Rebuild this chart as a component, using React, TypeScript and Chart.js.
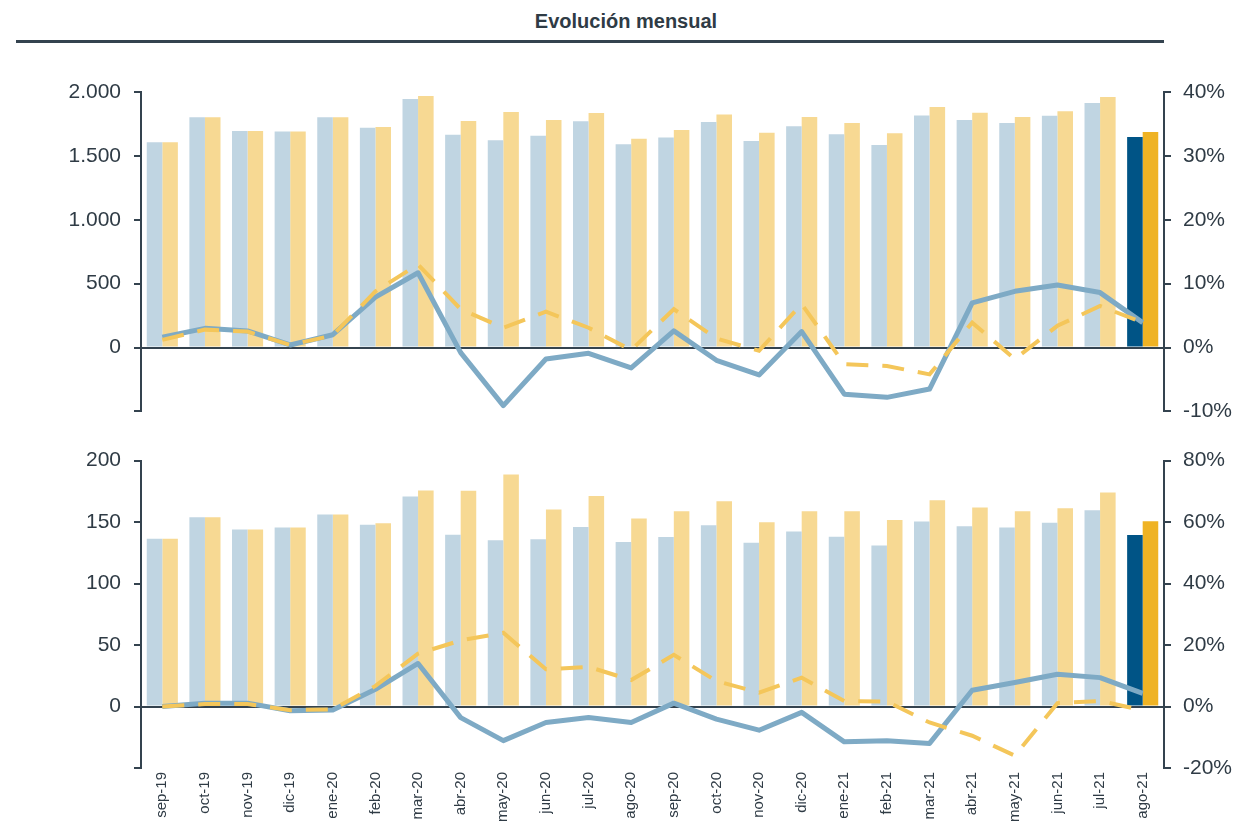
import React, { useEffect, useRef } from "react";
import { Chart, registerables } from "chart.js";

Chart.register(...registerables);

const categories = [
  "sep-19", "oct-19", "nov-19", "dic-19", "ene-20", "feb-20", "mar-20", "abr-20",
  "may-20", "jun-20", "jul-20", "ago-20", "sep-20", "oct-20", "nov-20", "dic-20",
  "ene-21", "feb-21", "mar-21", "abr-21", "may-21", "jun-21", "jul-21", "ago-21",
];

// Top panel (left axis: units, right axis: %)
const topBarsBlue = [1607, 1802, 1695, 1690, 1802, 1721, 1945, 1666, 1622, 1658, 1771, 1591, 1643, 1765, 1617, 1731, 1669, 1585, 1817, 1781, 1757, 1815, 1914, 1648];
const topBarsYellow = [1607, 1802, 1695, 1690, 1802, 1726, 1969, 1773, 1843, 1781, 1836, 1635, 1703, 1823, 1682, 1804, 1757, 1677, 1883, 1838, 1804, 1849, 1961, 1687];
const topLineBlue = [1.6, 3.0, 2.6, 0.4, 2.0, 7.9, 11.7, -0.8, -9.1, -1.8, -0.9, -3.2, 2.6, -2.0, -4.3, 2.5, -7.3, -7.8, -6.5, 7.0, 8.8, 9.8, 8.6, 3.9];
const topLineYellow = [1.2, 2.8, 2.5, 0.4, 1.9, 8.8, 13.0, 6.0, 3.1, 5.6, 3.1, -0.4, 6.0, 1.4, -0.5, 6.8, -2.6, -2.9, -4.2, 3.9, -1.8, 3.4, 6.5, 3.9];

// Bottom panel
const botBarsBlue = [136.4, 154.0, 144.0, 145.6, 156.2, 147.8, 170.8, 139.6, 135.3, 136.1, 146.1, 133.7, 137.8, 147.5, 133.2, 142.4, 138.0, 131.0, 150.5, 146.7, 145.6, 149.4, 159.7, 139.4];
const botBarsYellow = [136.4, 154.0, 144.0, 145.6, 156.2, 149.1, 175.6, 175.4, 188.6, 160.2, 171.3, 152.9, 158.9, 167.0, 149.9, 158.9, 158.9, 151.6, 167.8, 161.8, 158.9, 161.3, 174.0, 150.7];
const botLineBlue = [0.0, 1.1, 1.1, -1.4, -1.1, 5.6, 14.0, -3.6, -11.1, -5.2, -3.6, -5.2, 1.1, -4.1, -7.7, -1.9, -11.5, -11.1, -12.0, 5.3, 7.8, 10.5, 9.4, 4.3];
const botLineYellow = [0.0, 0.8, 0.8, -1.2, -0.9, 6.7, 17.2, 21.5, 24.0, 12.1, 12.9, 8.6, 16.8, 8.3, 4.5, 9.4, 1.8, 1.6, -5.2, -9.5, -16.0, 1.1, 1.8, -1.2];

const topLeftTicks = { min: -500, max: 2000, step: 500 };
const topRightTicks = { min: -10, max: 40, step: 10 };
const botLeftTicks = { min: -50, max: 200, step: 50 };
const botRightTicks = { min: -20, max: 80, step: 20 };

const DARK = "#34434f";
const TEXT = "#2f3b45";
const LIGHT_BLUE = "#c0d5e2";
const LIGHT_YELLOW = "#f7d993";
const DARK_BLUE = "#005486";
const GOLD = "#efb324";
const LINE_BLUE = "#7eaac5";
const LINE_YELLOW = "#f4c65a";
const FONT = "Arial, 'Liberation Sans', sans-serif";

function fmtThousands(v: number): string {
  const s = Math.abs(Math.round(v)).toString().replace(/\B(?=(\d{3})+(?!\d))/g, ".");
  return (v < 0 ? "-" : "") + s;
}

function colorsFor(n: number, base: string, last: string) {
  return Array.from({ length: n }, (_, i) => (i === n - 1 ? last : base));
}

function buildConfig(opts: {
  barsBlue: number[];
  barsYellow: number[];
  lineBlue: number[];
  lineYellow: number[];
  left: { min: number; max: number; step: number };
  right: { min: number; max: number; step: number };
  showX: boolean;
  padTop: number;
  padBottom: number;
  xHeight: number;
}): any {
  const n = categories.length;
  return {
    type: "bar",
    data: {
      labels: categories,
      datasets: [
        {
          type: "line",
          data: opts.lineYellow,
          yAxisID: "y2",
          borderColor: LINE_YELLOW,
          borderWidth: 4,
          borderDash: [22, 14],
          pointRadius: 0,
          tension: 0,
          order: 0,
          borderCapStyle: "butt",
        },
        {
          type: "line",
          data: opts.lineBlue,
          yAxisID: "y2",
          borderColor: LINE_BLUE,
          borderWidth: 5,
          pointRadius: 0,
          tension: 0,
          order: 1,
          borderJoinStyle: "round",
        },
        {
          type: "bar",
          data: opts.barsBlue,
          yAxisID: "y",
          backgroundColor: colorsFor(n, LIGHT_BLUE, DARK_BLUE),
          borderWidth: 0,
          categoryPercentage: 0.73,
          barPercentage: 1.0,
          order: 5,
        },
        {
          type: "bar",
          data: opts.barsYellow,
          yAxisID: "y",
          backgroundColor: colorsFor(n, LIGHT_YELLOW, GOLD),
          borderWidth: 0,
          categoryPercentage: 0.73,
          barPercentage: 1.0,
          order: 6,
        },
      ],
    },
    options: {
      animation: false,
      responsive: true,
      maintainAspectRatio: false,
      layout: { padding: { left: 0, right: 0, top: opts.padTop, bottom: opts.padBottom } },
      plugins: { legend: { display: false }, tooltip: { enabled: false }, title: { display: false } },
      scales: {
        x: {
          display: opts.showX,
          offset: true,
          grid: { display: false, drawTicks: false },
          border: { display: false },
          ticks: {
            display: opts.showX,
            maxRotation: 90,
            minRotation: 90,
            autoSkip: false,
            padding: 4,
            color: TEXT,
            font: { family: FONT, size: 15 },
          },
          afterFit: (scale: any) => {
            scale.height = opts.xHeight;
          },
        },
        y: {
          position: "left",
          min: opts.left.min,
          max: opts.left.max,
          afterBuildTicks: (scale: any) => {
            const t = [];
            for (let v = opts.left.min; v <= opts.left.max + 1e-9; v += opts.left.step) t.push({ value: v });
            scale.ticks = t;
          },
          border: { display: true, color: DARK, width: 2 },
          grid: {
            drawOnChartArea: true,
            color: (ctx: any) => (ctx.tick && ctx.tick.value === 0 ? DARK : "rgba(0,0,0,0)"),
            lineWidth: 2,
            tickColor: DARK,
            tickLength: 7,
          },
          ticks: {
            padding: 13,
            color: TEXT,
            font: { family: FONT, size: 21 },
            callback: (v: any) => (Number(v) < 0 ? "" : fmtThousands(Number(v))),
          },
          afterFit: (scale: any) => {
            scale.width = 141;
          },
        },
        y2: {
          position: "right",
          min: opts.right.min,
          max: opts.right.max,
          afterBuildTicks: (scale: any) => {
            const t = [];
            for (let v = opts.right.min; v <= opts.right.max + 1e-9; v += opts.right.step) t.push({ value: v });
            scale.ticks = t;
          },
          border: { display: true, color: DARK, width: 2 },
          grid: {
            drawOnChartArea: false,
            color: DARK,
            lineWidth: 2,
            tickColor: DARK,
            tickLength: 7,
          },
          ticks: {
            padding: 12,
            color: TEXT,
            font: { family: FONT, size: 21 },
            callback: (v: any) => `${Math.round(Number(v))}%`,
          },
          afterFit: (scale: any) => {
            scale.width = 72;
          },
        },
      },
    },
  };
}

function Panel(props: { top: number; height: number; config: any }) {
  const ref = useRef<HTMLCanvasElement | null>(null);
  useEffect(() => {
    if (!ref.current) return;
    const chart = new Chart(ref.current, props.config);
    return () => chart.destroy();
  }, []);
  return (
    <div style={{ position: "absolute", left: 0, top: props.top, width: 1236, height: props.height }}>
      <canvas ref={ref} />
    </div>
  );
}

export default function App() {
  const topConfig = buildConfig({
    barsBlue: topBarsBlue,
    barsYellow: topBarsYellow,
    lineBlue: topLineBlue,
    lineYellow: topLineYellow,
    left: topLeftTicks,
    right: topRightTicks,
    showX: false,
    padTop: 32,
    padBottom: 19,
    xHeight: 0,
  });
  const botConfig = buildConfig({
    barsBlue: botBarsBlue,
    barsYellow: botBarsYellow,
    lineBlue: botLineBlue,
    lineYellow: botLineYellow,
    left: botLeftTicks,
    right: botRightTicks,
    showX: true,
    padTop: 20,
    padBottom: 0,
    xHeight: 56,
  });
  return (
    <div style={{ position: "absolute", left: 0, top: 0, width: 1236, height: 824, background: "#fff", overflow: "hidden" }}>
      <div
        style={{
          position: "absolute",
          left: 426,
          top: 10,
          width: 400,
          textAlign: "center",
          fontFamily: FONT,
          fontWeight: "bold",
          fontSize: 20,
          color: TEXT,
        }}
      >
        Evolución mensual
      </div>
      <div style={{ position: "absolute", left: 16, top: 40, width: 1148, height: 3, background: DARK }} />
      <Panel top={60} height={377} config={topConfig} />
      <Panel top={435} height={389} config={botConfig} />
    </div>
  );
}
